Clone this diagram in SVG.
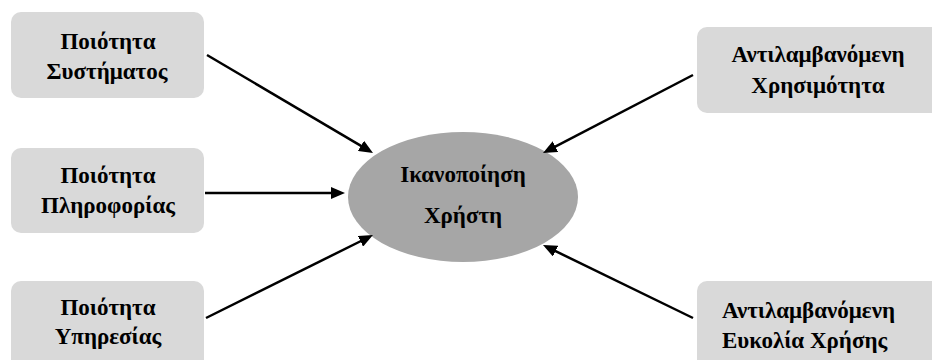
<svg xmlns="http://www.w3.org/2000/svg" width="932" height="360" viewBox="0 0 932 360">
  <defs>
    <marker id="arrow" viewBox="0 0 14 12" markerWidth="14" markerHeight="12" refX="4" refY="6" orient="auto" markerUnits="userSpaceOnUse">
      <path d="M0,0 L14,6 L0,12 z" fill="#000"/>
    </marker>
  </defs>
  <style>
    .box { fill: #d9d9d9; }
    .core { fill: #a6a6a6; }
    .label { font-family: "Liberation Serif", "DejaVu Serif", serif; font-weight: bold; font-size: 23px; fill: #000; text-anchor: middle; }
    .left { text-anchor: start; }
    .edge { stroke: #000; stroke-width: 2.5; fill: none; marker-end: url(#arrow); }
  </style>

  <rect width="932" height="360" fill="#fff"/>

  <!-- antecedent factors, left column -->
  <g id="system-quality">
    <rect class="box" x="11" y="12" width="193" height="86" rx="10"/>
    <text class="label" x="108" y="49">Ποιότητα</text>
    <text class="label" x="107" y="79">Συστήματος</text>
  </g>
  <g id="information-quality">
    <rect class="box" x="11" y="148" width="193" height="85" rx="10"/>
    <text class="label" x="108" y="183">Ποιότητα</text>
    <text class="label" x="108" y="213">Πληροφορίας</text>
  </g>
  <g id="service-quality">
    <rect class="box" x="11" y="281" width="193" height="95" rx="10"/>
    <text class="label" x="108" y="315">Ποιότητα</text>
    <text class="label" x="108" y="344">Υπηρεσίας</text>
  </g>

  <!-- perceived factors, right column -->
  <g id="perceived-usefulness">
    <rect class="box" x="697" y="27" width="250" height="86" rx="10"/>
    <text class="label" x="818" y="62">Αντιλαμβανόμενη</text>
    <text class="label" x="818" y="93">Χρησιμότητα</text>
  </g>
  <g id="perceived-ease-of-use">
    <rect class="box" x="697" y="281" width="250" height="95" rx="10"/>
    <text class="label left" x="722" y="318">Αντιλαμβανόμενη</text>
    <text class="label left" x="722" y="348">Ευκολία Χρήσης</text>
  </g>

  <!-- outcome -->
  <g id="user-satisfaction">
    <ellipse class="core" cx="463" cy="197" rx="115" ry="65"/>
    <text class="label" x="463" y="182">Ικανοποίηση</text>
    <text class="label" x="463" y="223">Χρήστη</text>
  </g>

  <g id="connectors">
    <line class="edge" x1="207" y1="55" x2="364.4" y2="147.9"/>
    <line class="edge" x1="205" y1="193" x2="335" y2="193"/>
    <line class="edge" x1="206" y1="318" x2="364" y2="239.5"/>
    <line class="edge" x1="693" y1="75" x2="551.9" y2="148.4"/>
    <line class="edge" x1="693" y1="318" x2="552" y2="249.4"/>
  </g>
</svg>
